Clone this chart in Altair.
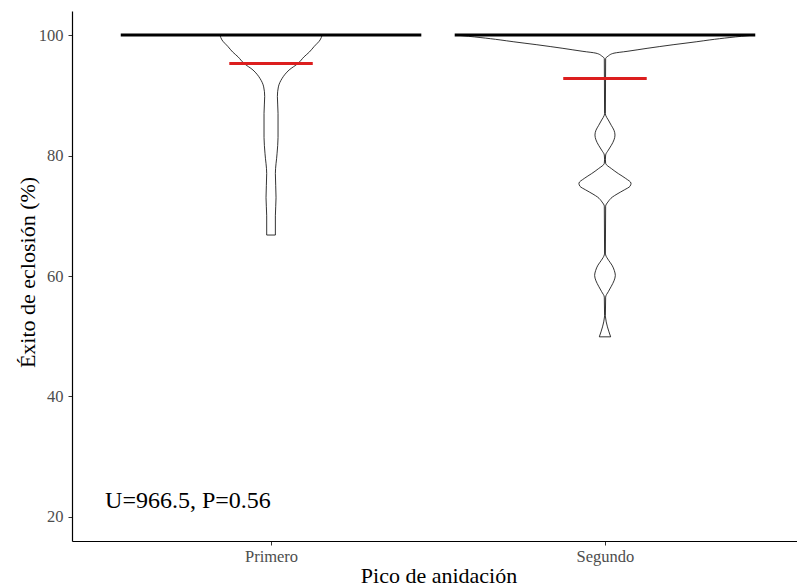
import altair as alt
import pandas as pd

# ---- data ----
groups = ["Primero", "Segundo"]
group_pos = [1, 2]

# violin outline: value (%) and half-width (in group units)
primero_y = [100, 99.2, 98.1, 97.2, 96.4, 95.3, 94.2, 93.5, 92.8, 91.4, 89.8, 87.0, 83.0, 80.3, 77.0, 73.0, 70.0, 66.8]
primero_w = [0.153, 0.147, 0.129, 0.115, 0.099, 0.081, 0.054, 0.042, 0.033, 0.022, 0.019, 0.021, 0.021, 0.018, 0.013, 0.015, 0.013, 0.013]

segundo_y = [100, 99.6, 99.2, 98.9, 98.4, 97.8, 97.3, 97.0, 96.5, 96.1,
             87.0, 86.7, 85.9, 85.0, 84.2, 83.4, 82.6, 81.7, 80.9, 80.1,
             79.4, 78.7, 77.8, 77.0, 76.2, 75.4, 74.9, 74.3, 73.6, 73.1, 72.3, 71.6,
             63.8, 63.5, 62.6, 61.8, 60.9, 60.1, 59.2, 58.3, 57.4, 56.5,
             53.4, 53.2, 49.9]
segundo_w = [0.446, 0.374, 0.314, 0.275, 0.204, 0.126, 0.066, 0.027, 0.009, 0.002,
             0.0012, 0.002, 0.010, 0.019, 0.027, 0.030, 0.027, 0.019, 0.010, 0.002,
             0.0012, 0.002, 0.020, 0.040, 0.062, 0.078, 0.075, 0.058, 0.036, 0.022, 0.009, 0.002,
             0.0012, 0.002, 0.011, 0.021, 0.028, 0.031, 0.027, 0.019, 0.010, 0.002,
             0.0012, 0.0015, 0.017]

medians = [100, 100]
means = [95.3, 92.8]
median_half = 0.45
mean_half = 0.125

annotation = "U=966.5, P=0.56"
ann_x = 0.503
ann_y = 21.4

y_ticks = [20, 40, 60, 80, 100]

# ---- tables ----
rows = []
for g, p, ys, ws in [(groups[0], group_pos[0], primero_y, primero_w),
                     (groups[1], group_pos[1], segundo_y, segundo_w)]:
    for yv, wv in zip(ys, ws):
        rows.append({"group": g, "y": yv, "x": p - wv, "x2": p + wv})
violin_df = pd.DataFrame(rows)

median_df = pd.DataFrame({"group": groups, "y": medians,
                          "x": [p - median_half for p in group_pos],
                          "x2": [p + median_half for p in group_pos]})
mean_df = pd.DataFrame({"group": groups, "y": means,
                        "x": [p - mean_half for p in group_pos],
                        "x2": [p + mean_half for p in group_pos]})
text_df = pd.DataFrame({"x": [ann_x], "y": [ann_y], "label": [annotation]})

# ---- scales & axes ----
FONT = "Liberation Serif"
xscale = alt.Scale(domain=[0.404, 2.575], nice=False, zero=False)
yscale = alt.Scale(domain=[16, 104], nice=False, zero=False)

expr = "'" + groups[-1] + "'"
for p, g in reversed(list(zip(group_pos[:-1], groups[:-1]))):
    expr = f"datum.value == {p} ? '{g}' : {expr}"

x_axis = alt.Axis(values=group_pos, labelExpr=expr, title="Pico de anidación",
                  grid=False, domainColor="black", domainWidth=1.2,
                  tickColor="#333333", tickSize=4, tickWidth=1,
                  labelColor="#4d4d4d", labelFontSize=16.5, labelFont=FONT, labelPadding=3,
                  titleFont=FONT, titleFontSize=22, titleColor="black", titleFontWeight="normal",
                  titleBaseline="alphabetic", titleY=41, titleX=366.5, titleAlign="center")
y_axis = alt.Axis(values=y_ticks, title="Éxito de eclosión (%)",
                  grid=False, domainColor="black", domainWidth=1.2,
                  tickColor="#333333", tickSize=4, tickWidth=1,
                  labelColor="#4d4d4d", labelFontSize=16.5, labelFont=FONT, labelPadding=5,
                  titleFont=FONT, titleFontSize=22, titleColor="black", titleFontWeight="normal",
                  titleBaseline="alphabetic", titleX=-38, titleY=261, titleAlign="center", titleAngle=270)

def enc_x():
    return alt.X("x:Q", scale=xscale, axis=x_axis)

def enc_y():
    return alt.Y("y:Q", scale=yscale, axis=y_axis)

violins = alt.Chart(violin_df).mark_area(
    orient="horizontal", fill="white", stroke="black", strokeWidth=0.8,
    interpolate="monotone"
).encode(y=enc_y(), x=enc_x(), x2="x2:Q", detail="group:N")

median_rules = alt.Chart(median_df).mark_rule(color="black", strokeWidth=3).encode(
    y=enc_y(), x=enc_x(), x2="x2:Q")

mean_rules = alt.Chart(mean_df).mark_rule(color="#dc1e1e", strokeWidth=3).encode(
    y=enc_y(), x=enc_x(), x2="x2:Q")

label = alt.Chart(text_df).mark_text(
    align="left", baseline="alphabetic", font=FONT, fontSize=24, color="black"
).encode(x=enc_x(), y=enc_y(), text="label:N")

chart = alt.layer(violins, median_rules, mean_rules, label).properties(
    width=725, height=530,
    autosize=alt.AutoSizeParams(type="none"),
    padding={"left": 72, "top": 11, "right": 0, "bottom": 47},
    background="white",
).configure_view(stroke=None)

chart.save("out.html", embed_options={"renderer": "svg", "actions": False})
